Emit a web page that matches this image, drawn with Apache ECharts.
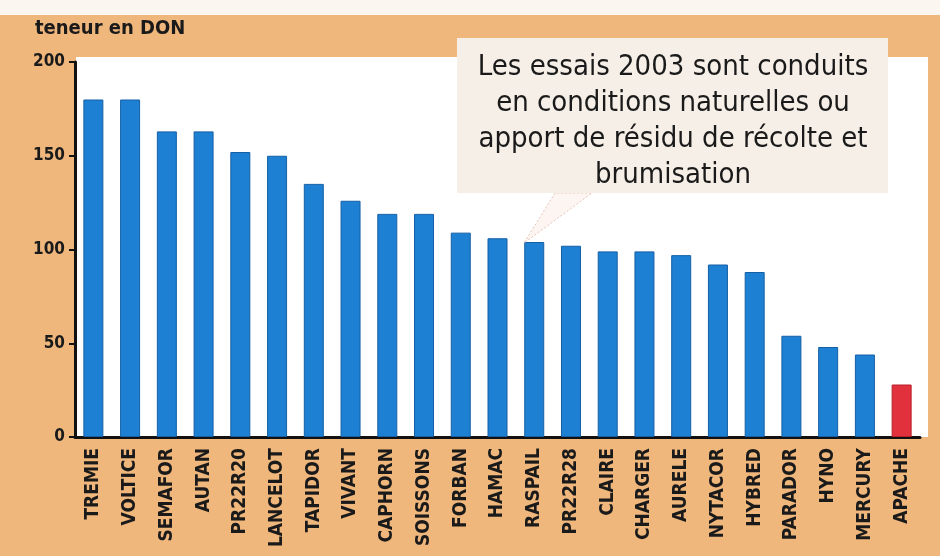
<!DOCTYPE html>
<html>
<head>
<meta charset="utf-8">
<script src="https://cdn.jsdelivr.net/npm/echarts@6/dist/echarts.min.js"></script>
<style>
html,body{margin:0;padding:0;background:#fff;}
#chart{width:940px;height:556px;}
</style>
</head>
<body>
<div id="chart"></div>
<script>
var categories = ['TREMIE','VOLTICE','SEMAFOR','AUTAN','PR22R20','LANCELOT','TAPIDOR','VIVANT','CAPHORN','SOISSONS','FORBAN','HAMAC','RASPAIL','PR22R28','CLAIRE','CHARGER','AURELE','NYTACOR','HYBRED','PARADOR','HYNO','MERCURY','APACHE'];
var donValues = [180,180,163,163,152,150,135,126,119,119,109,106,104,102,99,99,97,92,88,54,48,44,28];
var highlighted = ['APACHE'];
var yTicks = [0,50,100,150,200];
var axisTitle = 'teneur en DON';
var noteLines = ['Les essais 2003 sont conduits','en conditions naturelles ou','apport de résidu de récolte et','brumisation'];

var FONT = '"DejaVu Sans Condensed", "Liberation Sans Narrow", sans-serif';
var chart = echarts.init(document.getElementById('chart'), null, {renderer:'canvas'});

var barData = donValues.map(function(v, i){
  var hi = highlighted.indexOf(categories[i]) >= 0;
  return {value: v, itemStyle: hi ? {color:'#E0313C', borderColor:'#B8202A'} : undefined};
});

var option = {
  animation: false,
  backgroundColor: '#F0B77D',
  grid: {left: 75, right: 20, top: 62, bottom: 119, show: false},
  xAxis: {
    type: 'category',
    data: categories,
    axisLine: {show: true, lineStyle: {color: '#111', width: 3}},
    axisTick: {show: false},
    axisLabel: {rotate: 90, margin: 11, fontFamily: FONT, fontWeight: 'bold', fontSize: 19, color: '#1a1a1a', interval: 0}
  },
  yAxis: {
    type: 'value',
    min: yTicks[0], max: yTicks[yTicks.length-1], interval: yTicks[1]-yTicks[0],
    axisLine: {show: true, lineStyle: {color: '#111', width: 3}},
    axisTick: {show: true, length: 6, lineStyle: {color: '#111', width: 2}},
    splitLine: {show: false},
    axisLabel: {margin: 10, fontFamily: FONT, fontWeight: 'bold', fontSize: 17, color: '#1a1a1a'}
  },
  series: [{
    type: 'bar',
    data: barData,
    barWidth: 20,
    itemStyle: {color: '#1E80D2', borderColor: '#155FA5', borderWidth: 1}
  }],
  graphic: [
    {type:'rect', z:-10, shape:{x:0,y:0,width:940,height:15}, style:{fill:'#FBF6F0'}},
    {type:'rect', z:-10, shape:{x:76,y:57,width:852,height:380}, style:{fill:'#FFFFFF'}},
    {type:'text', left: 35, top: 19, style:{text: axisTitle, font: 'bold 20px ' + FONT, fill:'#1a1a1a'}},
    {type:'polygon', z: 5, shape:{points:[[555,193],[524,243],[592,193]]}, style:{fill:'rgba(245,225,215,0.35)', stroke:'#E9C2B8', lineWidth:1, lineDash:[2,2]}},
    {type:'rect', z: 6, shape:{x:457,y:38,width:431,height:155}, style:{fill:'#F6EFE7'}},
    {type:'text', z: 7, x: 673, y: 49, style:{text: noteLines.join('\n'), font: '29px ' + FONT, lineHeight: 36, fill:'#1a1a1a', align:'center', verticalAlign:'top'}}
  ]
};
chart.setOption(option);
</script>
</body>
</html>
